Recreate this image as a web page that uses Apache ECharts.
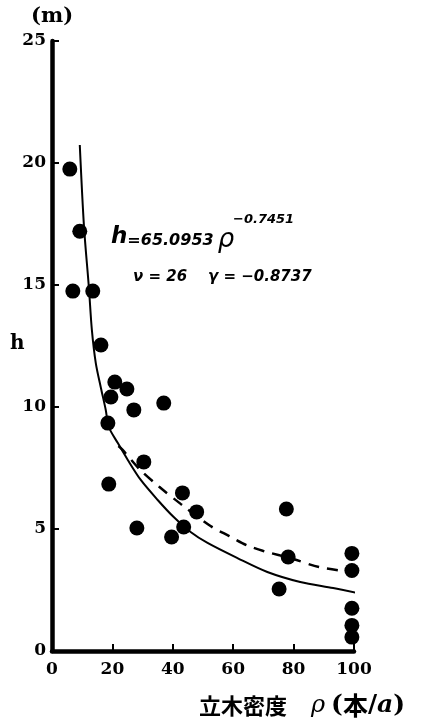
<!DOCTYPE html>
<html>
<head>
<meta charset="utf-8">
<script src="https://cdn.jsdelivr.net/npm/echarts@6/dist/echarts.min.js"></script>
<style>
  html, body { margin: 0; padding: 0; background: #fff; }
  #chart { width: 422px; height: 720px; }
</style>
</head>
<body>
<div id="chart"></div>
<script>
// Stand density (trees per are) vs. tree height (m), 26 plots
const plotDensity = [5.9, 9.2, 6.9, 13.5, 16.2, 20.8, 24.8, 19.5, 27.1, 37.0, 18.5, 30.4, 18.8,
                     43.2, 47.9, 43.6, 28.1, 39.6, 77.6, 78.2, 75.2, 99.3, 99.3, 99.3, 99.3, 99.3];
const plotHeight  = [19.75, 17.2, 14.75, 14.75, 12.54, 11.02, 10.74, 10.41, 9.88, 10.16, 9.34, 7.75, 6.84,
                     6.48, 5.70, 5.08, 5.04, 4.67, 5.82, 3.85, 2.54, 4.0, 3.3, 1.75, 1.05, 0.57];

// Fitted power curve (solid)
const fitDensity = [9.2, 10.6, 12.2, 13.2, 14.5, 16.2, 17.8, 18.8, 21.8, 25.1, 29.4, 35.0, 40.3,
                    45.9, 51.5, 61.4, 71.3, 82.2, 93.1, 101.0];
const fitHeight  = [20.74, 17.38, 14.92, 13.16, 11.80, 10.78, 9.88, 9.18, 8.52, 7.83, 7.01, 6.19, 5.49,
                    4.88, 4.43, 3.81, 3.24, 2.83, 2.58, 2.38];
// short dotted continuation past the axis end
const tailDensity = [101.0, 106.5];
const tailHeight  = [2.38, 2.40];

// Comparison curve (dashed)
const refDensity = [22.0, 23.4, 29.0, 35.6, 42.6, 52.5, 58.7, 64.4, 70.0, 79.9, 88.4, 98.7];
const refHeight  = [8.40, 8.24, 7.45, 6.72, 6.03, 5.12, 4.71, 4.34, 4.10, 3.77, 3.44, 3.24];

const xTicks = [0, 20, 40, 60, 80, 100];
const yTicks = [0, 5, 10, 15, 20, 25];

const zip = (a, b) => a.map((v, i) => [v, b[i]]);

const serif = '"DejaVu Serif", "Liberation Serif", serif';
const hand = '"DejaVu Sans", "Noto Sans", sans-serif';
const cjk = '"Noto Sans CJK JP", "Noto Sans CJK SC", sans-serif';

const chart = echarts.init(document.getElementById('chart'), null, { renderer: 'canvas' });

const axisCommon = {
  type: 'value',
  splitLine: { show: false },
  axisLine: { show: true, onZero: false, lineStyle: { color: '#000', width: 4.5 } },
  axisTick: { show: true, inside: true, length: 7, lineStyle: { color: '#000', width: 2 } },
  axisLabel: {
    color: '#000', fontFamily: serif, fontWeight: 'bold', fontSize: 17
  }
};

chart.setOption({
  animation: false,
  backgroundColor: '#fff',
  grid: { left: 52, right: 68, top: 41, bottom: 69 },
  xAxis: Object.assign({}, axisCommon, {
    min: xTicks[0], max: xTicks[xTicks.length - 1], interval: 20,
    axisLabel: Object.assign({}, axisCommon.axisLabel, { margin: 10 })
  }),
  yAxis: Object.assign({}, axisCommon, {
    min: yTicks[0], max: yTicks[yTicks.length - 1], interval: 5,
    axisLabel: Object.assign({}, axisCommon.axisLabel, { margin: 6 })
  }),
  series: [
    {
      type: 'line', data: zip(fitDensity, fitHeight), smooth: 0.3, symbol: 'none',
      lineStyle: { color: '#000', width: 2 }, z: 2
    },
    {
      type: 'line', data: zip(tailDensity, tailHeight), symbol: 'none', clip: false,
      lineStyle: { color: '#000', width: 1.5, type: [5, 4] }, z: 2
    },
    {
      type: 'line', data: zip(refDensity, refHeight), smooth: 0.3, symbol: 'none',
      lineStyle: { color: '#000', width: 2.5, type: [11, 8] }, z: 2
    },
    {
      type: 'scatter', data: zip(plotDensity, plotHeight), symbol: 'circle', symbolSize: 15,
      itemStyle: { color: '#000', opacity: 1 }, z: 3
    }
  ],
  graphic: [
    { type: 'text', left: 31, top: 6,
      style: { text: '(m)', fill: '#000', font: 'bold 21px ' + serif } },
    { type: 'text', left: 10, top: 334,
      style: { text: 'h', fill: '#000', font: 'bold 20px ' + serif } },
    { type: 'text', left: 111, top: 226,
      style: {
        text: '{h|h}{t|=65.0953}{r|ρ}',
        fill: '#000',
        rich: {
          h: { font: 'italic bold 23px ' + hand },
          t: { font: 'italic bold 16px ' + hand, padding: [6, 0, 0, 0] },
          r: { font: 'italic 26px ' + hand, padding: [6, 0, 0, 4] }
        }
      } },
    { type: 'text', left: 233, top: 213,
      style: { text: '−0.7451', fill: '#000', font: 'italic bold 13px ' + hand } },
    { type: 'text', left: 133, top: 270,
      style: { text: 'ν = 26    γ = −0.8737', fill: '#000', font: 'italic bold 15px ' + hand } },
    { type: 'text', left: 199, top: 693,
      style: {
        text: '{c|立木密度}{r|ρ}{p|(}{k|本}{p|/}{a|a}{p|)}',
        fill: '#000',
        rich: {
          c: { font: 'bold 22px ' + cjk },
          k: { font: 'bold 25px ' + cjk },
          r: { font: 'italic 24px ' + serif, padding: [0, 6, 0, 24] },
          p: { font: 'bold 25px ' + serif },
          a: { font: 'italic bold 25px ' + serif }
        }
      } }
  ]
});
</script>
</body>
</html>
